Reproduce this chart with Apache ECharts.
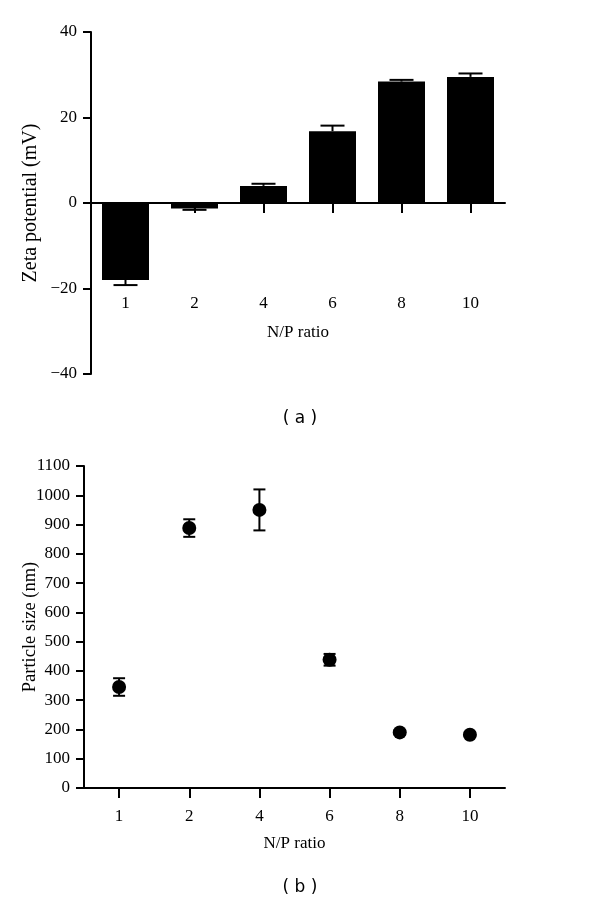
<!DOCTYPE html>
<html><head><meta charset="utf-8">
<script src="https://cdn.jsdelivr.net/npm/echarts@6/dist/echarts.min.js"></script>
<style>html,body{margin:0;padding:0;background:#fff}#c{width:600px;height:906px}</style>
</head><body><div id="c"></div>
<script>
const categories = ['1','2','4','6','8','10'];
const zeta = [-18.0, -1.3, 4.0, 16.8, 28.4, 29.5];
const zetaErr = [1.2, 0.3, 0.5, 1.3, 0.4, 0.8];
const size = [345, 888, 950, 438, 190, 182];
const sizeErr = [30, 30, 70, 20, 8, 8];
const zetaTicks = [-40, -20, 0, 20, 40];
const sizeTicks = [0, 1100, 100];

const serif = 'Liberation Serif';
const fmtMinus = v => (v < 0 ? '\u2212' + Math.abs(v) : String(v));

function errSeries(xi, yi, vals, errs, cap, bothSides) {
  return {
    type: 'custom', xAxisIndex: xi, yAxisIndex: yi, z: 5,
    data: vals.map((v, i) => [i, v, errs[i]]),
    renderItem: function (params, api) {
      const i = api.value(0), v = api.value(1), e = api.value(2);
      const hi = v >= 0 ? v + e : v - e;
      const lo = bothSides ? (v >= 0 ? v - e : v + e) : v;
      const p1 = api.coord([i, hi]), p0 = api.coord([i, lo]);
      const st = { stroke: '#000', lineWidth: 2 };
      const ch = [
        { type: 'line', shape: { x1: p1[0], y1: p1[1], x2: p0[0], y2: p0[1] }, style: st },
        { type: 'line', shape: { x1: p1[0] - cap / 2, y1: p1[1], x2: p1[0] + cap / 2, y2: p1[1] }, style: st }
      ];
      if (bothSides) ch.push({ type: 'line', shape: { x1: p0[0] - cap / 2, y1: p0[1], x2: p0[0] + cap / 2, y2: p0[1] }, style: st });
      return { type: 'group', children: ch };
    }
  };
}

const axisLineStyle = { lineStyle: { color: '#000', width: 2 } };
const tickStyle = { color: '#000', width: 2 };
const lbl = { fontFamily: serif, fontSize: 17, color: '#000' };
const chart = echarts.init(document.getElementById('c'));
chart.setOption({
  animation: false,
  backgroundColor: '#fff',
  title: [
    { text: '( a )', left: 'center', top: 405, textStyle: { fontFamily: 'DejaVu Sans', fontSize: 17, fontWeight: 'normal', color: '#000' } },
    { text: '( b )', left: 'center', top: 874, textStyle: { fontFamily: 'DejaVu Sans', fontSize: 17, fontWeight: 'normal', color: '#000' } }
  ],
  grid: [
    { left: 91, right: 95, top: 32, bottom: 532 },
    { left: 84, right: 95, top: 466, bottom: 118 },
    { left: 91, right: 95, top: 32, bottom: 618 }
  ],
  xAxis: [
    {
      type: 'category', gridIndex: 0, data: categories,
      axisLine: Object.assign({ onZero: true }, axisLineStyle),
      axisTick: { show: true, alignWithLabel: true, length: 10, lineStyle: tickStyle },
      axisLabel: { show: false }
    },
    {
      type: 'category', gridIndex: 1, data: categories,
      axisLine: axisLineStyle,
      axisTick: { show: true, alignWithLabel: true, length: 10, lineStyle: tickStyle },
      axisLabel: Object.assign({ margin: 20 }, lbl),
      name: 'N/P ratio', nameLocation: 'middle', nameGap: 47,
      nameTextStyle: lbl
    },
    {
      type: 'category', gridIndex: 2, data: categories,
      axisLine: { show: false }, axisTick: { show: false },
      axisLabel: Object.assign({ margin: 7 }, lbl),
      name: 'N/P ratio', nameLocation: 'middle', nameGap: 36,
      nameTextStyle: lbl
    }
  ],
  yAxis: [
    {
      type: 'value', gridIndex: 0, min: zetaTicks[0], max: zetaTicks[zetaTicks.length - 1], interval: 20,
      axisLine: Object.assign({ show: true }, axisLineStyle),
      axisTick: { show: true, length: 8, lineStyle: tickStyle },
      splitLine: { show: false },
      axisLabel: Object.assign({ margin: 14, formatter: fmtMinus }, lbl),
      name: 'Zeta potential (mV)', nameLocation: 'middle', nameGap: 50, nameMoveOverlap: false,
      nameTextStyle: { fontFamily: serif, fontSize: 20, color: '#000' }
    },
    {
      type: 'value', gridIndex: 1, min: sizeTicks[0], max: sizeTicks[1], interval: sizeTicks[2],
      axisLine: Object.assign({ show: true }, axisLineStyle),
      axisTick: { show: true, length: 8, lineStyle: tickStyle },
      splitLine: { show: false },
      axisLabel: Object.assign({ margin: 14, formatter: v => String(v) }, lbl),
      name: 'Particle size (nm)', nameLocation: 'middle', nameGap: 44, nameMoveOverlap: false,
      nameTextStyle: { fontFamily: serif, fontSize: 18.5, color: '#000' }
    },
    {
      type: 'value', gridIndex: 2, min: 0, max: 1, show: false
    }
  ],
  series: [
    { type: 'bar', xAxisIndex: 0, yAxisIndex: 0, data: zeta, barWidth: 47, itemStyle: { color: '#000' } },
    errSeries(0, 0, zeta, zetaErr, 24, false),
    errSeries(1, 1, size, sizeErr, 12, true),
    { type: 'scatter', xAxisIndex: 1, yAxisIndex: 1, data: size, symbol: 'circle', symbolSize: 14, itemStyle: { color: '#000', opacity: 1 }, z: 6 }
  ]
});
</script></body></html>
